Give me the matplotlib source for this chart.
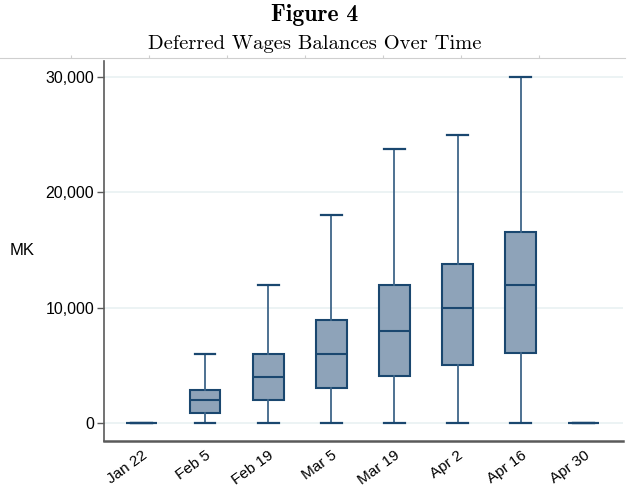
import matplotlib
matplotlib.use('Agg')
import matplotlib.pyplot as plt

plt.rcParams['font.family'] = ['Liberation Sans', 'DejaVu Sans']

NAVY = '#1a476f'; FILL = '#8ea3b9'; GRID = '#eaf2f3'; AXC = '#5a5a5a'

# box stats per survey date (MK)
dates = ['Jan 22', 'Feb 5', 'Feb 19', 'Mar 5', 'Mar 19', 'Apr 2', 'Apr 16', 'Apr 30']
lo_whisk = [0, 0, 0, 0, 0, 0, 0, 0]
q1 = [0, 850, 2000, 3000, 4050, 5050, 6050, 0]
med = [0, 2000, 4000, 6000, 8000, 10000, 12000, 0]
q3 = [0, 2900, 5950, 8950, 11950, 13800, 16600, 0]
hi_whisk = [0, 6000, 12000, 18000, 23750, 25000, 30000, 0]
yticks = [0, 10000, 20000, 30000]

stats = [dict(label=d, whislo=a, q1=b, med=c, q3=e, whishi=f, fliers=[])
         for d, a, b, c, e, f in zip(dates, lo_whisk, q1, med, q3, hi_whisk)]

fig = plt.figure(figsize=(6.3, 4.93), dpi=100)
ax = fig.add_axes([104/630, 1-441/493, 519/630, 380/493])

ax.bxp(stats, positions=range(1, len(dates)+1), widths=0.49, patch_artist=True,
       showfliers=False, capwidths=0.33,
       boxprops=dict(facecolor=FILL, edgecolor=NAVY, lw=1.5),
       medianprops=dict(color=NAVY, lw=1.5),
       whiskerprops=dict(color='#3f6689', lw=1.3),
       capprops=dict(color=NAVY, lw=1.6))

ax.set_xlim(0.40, 8.62)
ax.set_ylim(-1565, 31400)
ax.set_yticks(yticks)
ax.set_yticklabels([f'{v:,}' for v in yticks], fontsize=11.5)
ax.set_xticks(range(1, len(dates)+1))
ax.set_xticklabels(dates, rotation=36, ha='right', rotation_mode='anchor', fontsize=11)
ax.tick_params(axis='x', length=0, pad=5)
ax.tick_params(axis='y', length=5, width=1, color=AXC, pad=2)
ax.yaxis.grid(True, color=GRID, lw=1.3)
ax.set_axisbelow(True)
for s in ['top', 'right']:
    ax.spines[s].set_visible(False)
ax.spines['left'].set_color(AXC); ax.spines['left'].set_linewidth(1.2)
ax.spines['bottom'].set_color(AXC); ax.spines['bottom'].set_linewidth(1.8)
ax.set_ylabel('MK', rotation=0, fontsize=12, ha='center', va='center')
ax.yaxis.set_label_coords(-0.158, 0.5)

# thin rule under the title with small ticks
rule = fig.add_axes([0, 1-58/493, 625/630, 0.0001])
rule.set_xlim(0, 625)
rule.set_yticks([])
rule.set_xticks([71, 149, 227, 305, 383, 461, 539])
rule.set_xticklabels([])
rule.tick_params(axis='x', direction='in', length=2.5, color='#cfcfcf', width=0.8)
for s in ['top', 'right', 'left']:
    rule.spines[s].set_visible(False)
rule.spines['bottom'].set_color('#cfcfcf')
rule.patch.set_visible(False)

fig.text(0.5, 1-15/493, 'Figure 4', ha='center', va='center', fontsize=17, family='cmb10')
fig.text(0.5, 1-44/493, 'Deferred Wages Balances Over Time', ha='center', va='center',
         fontsize=14.8, family='cmr10')

fig.savefig('out.png', dpi=100)
